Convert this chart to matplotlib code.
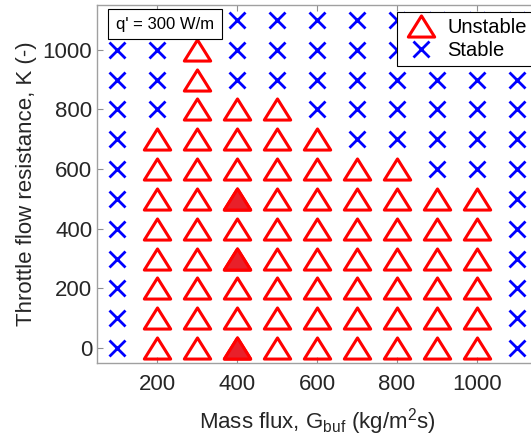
import matplotlib.pyplot as plt
from matplotlib.path import Path

plt.rcParams['font.family'] = ['Liberation Sans', 'DejaVu Sans']
plt.rcParams['mathtext.default'] = 'regular'

# mass flux (kg/m2s) and throttle resistance grids
G = [100, 200, 300, 400, 500, 600, 700, 800, 900, 1000, 1100]
K = [0, 100, 200, 300, 400, 500, 600, 700, 800, 900, 1000, 1100]

# stability map, one string per K row: x = stable, u = unstable, f = unstable (highlighted)
status = [
    "xuufuuuuuux",  # K = 0
    "xuuuuuuuuux",  # K = 100
    "xuuuuuuuuux",  # K = 200
    "xuufuuuuuux",  # K = 300
    "xuuuuuuuuux",  # K = 400
    "xuufuuuuuux",  # K = 500
    "xuuuuuuuxxx",  # K = 600
    "xuuuuuxxxxx",  # K = 700
    "xxuuuxxxxxx",  # K = 800
    "xxuxxxxxxxx",  # K = 900
    "xxuxxxxxxxx",  # K = 1000
    "xxxxxxxxxxx",  # K = 1100
]

stab_g, stab_k, unst_g, unst_k, fill_g, fill_k = [], [], [], [], [], []
for k, row in zip(K, status):
    for g, s in zip(G, row):
        if s == 'x':
            stab_g.append(g); stab_k.append(k)
        else:
            unst_g.append(g); unst_k.append(k)
            if s == 'f':
                fill_g.append(g); fill_k.append(k)

# slightly squat closed triangle
tri = Path([(-1, -0.8), (1, -0.8), (0, 0.8), (-1, -0.8)],
           [Path.MOVETO, Path.LINETO, Path.LINETO, Path.CLOSEPOLY])

fig = plt.figure(figsize=(5.31, 4.45), dpi=100)
ax = fig.add_axes([97/531, 82/445, 440/531, 358/445])

h1, = ax.plot(unst_g, unst_k, linestyle='none', marker=tri, ms=19, mew=2.2,
              mec='red', mfc='none', label='Unstable')
ax.plot(fill_g, fill_k, linestyle='none', marker=tri, ms=19, mew=2.2,
        mec='red', mfc='#e8202a')
h2, = ax.plot(stab_g, stab_k, linestyle='none', marker='x', ms=11, mew=2.0,
              color='blue', label='Stable')

ax.set_xlim(50, 1150)
ax.set_ylim(-50, 1150)
ax.set_xticks([200, 400, 600, 800, 1000])
ax.set_yticks([0, 200, 400, 600, 800, 1000])
ax.tick_params(direction='in', length=4, width=0.8, colors='#909090',
               labelcolor='#262626', labelsize=16, top=True, right=True)
ax.tick_params(axis='x', pad=8)
for sp in ax.spines.values():
    sp.set_color('#a0a0a0')
    sp.set_linewidth(1.0)

ax.set_xlabel('Mass flux, $G_{buf}$ (kg/m$^2$s)', fontsize=16, color='#262626', labelpad=8)
ax.set_ylabel('Throttle flow resistance, K (-)', fontsize=16, color='#262626', labelpad=4)

leg = fig.legend(handles=[h1, h2], loc='upper left', bbox_to_anchor=(397/531, 1 - 12/445),
                 fontsize=14.5, frameon=True, fancybox=False, framealpha=1,
                 edgecolor='black', borderpad=0.3, handletextpad=0.4,
                 labelspacing=0.2, borderaxespad=0, handlelength=1.8)
leg.get_frame().set_linewidth(0.8)

fig.text(165/531, 1 - 24/445, "q' = 300 W/m", fontsize=12, ha='center', va='center',
         bbox=dict(boxstyle='square,pad=0.45', fc='white', ec='black', lw=0.8), zorder=5)

fig.savefig('out.png', dpi=100)
